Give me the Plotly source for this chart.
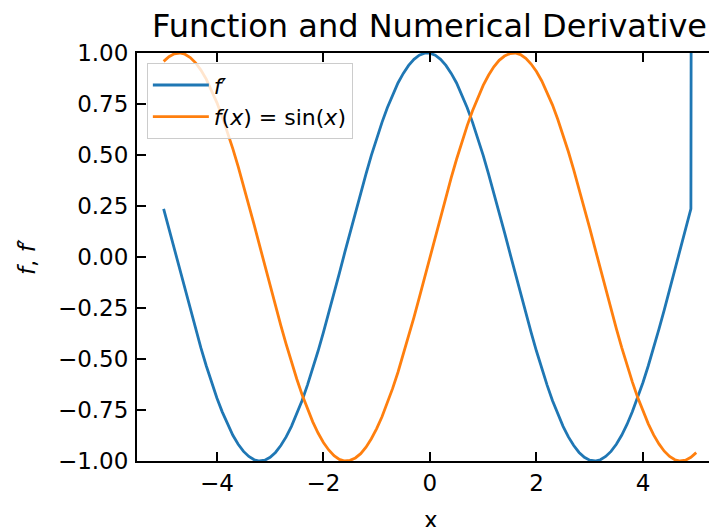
import plotly.graph_objects as go

x_vals = [-5.0, -4.9, -4.8, -4.7, -4.6, -4.5, -4.4, -4.3, -4.2, -4.1,
          -4.0, -3.9, -3.8, -3.7, -3.6, -3.5, -3.4, -3.3, -3.2, -3.1,
          -3.0, -2.9, -2.8, -2.7, -2.6, -2.5, -2.4, -2.3, -2.2, -2.1,
          -2.0, -1.9, -1.8, -1.7, -1.6, -1.5, -1.4, -1.3, -1.2, -1.1,
          -1.0, -0.9, -0.8, -0.7, -0.6, -0.5, -0.4, -0.3, -0.2, -0.1,
          0.0, 0.1, 0.2, 0.3, 0.4, 0.5, 0.6, 0.7, 0.8, 0.9,
          1.0, 1.1, 1.2, 1.3, 1.4, 1.5, 1.6, 1.7, 1.8, 1.9,
          2.0, 2.1, 2.2, 2.3, 2.4, 2.5, 2.6, 2.7, 2.8, 2.9,
          3.0, 3.1, 3.2, 3.3, 3.4, 3.5, 3.6, 3.7, 3.8, 3.9,
          4.0, 4.1, 4.2, 4.3, 4.4, 4.5, 4.6, 4.7, 4.8, 4.9, 5.0]

f_vals = [0.959, 0.982, 0.996, 1.000, 0.994, 0.978, 0.952, 0.916, 0.872, 0.818,
          0.757, 0.688, 0.612, 0.530, 0.443, 0.351, 0.256, 0.158, 0.058, -0.042,
          -0.141, -0.239, -0.335, -0.427, -0.516, -0.598, -0.675, -0.746, -0.808, -0.863,
          -0.909, -0.946, -0.974, -0.992, -1.000, -0.997, -0.985, -0.964, -0.932, -0.891,
          -0.841, -0.783, -0.717, -0.644, -0.565, -0.479, -0.389, -0.296, -0.199, -0.100,
          0.000, 0.100, 0.199, 0.296, 0.389, 0.479, 0.565, 0.644, 0.717, 0.783,
          0.841, 0.891, 0.932, 0.964, 0.985, 0.997, 1.000, 0.992, 0.974, 0.946,
          0.909, 0.863, 0.808, 0.746, 0.675, 0.598, 0.516, 0.427, 0.335, 0.239,
          0.141, 0.042, -0.058, -0.158, -0.256, -0.351, -0.443, -0.530, -0.612, -0.688,
          -0.757, -0.818, -0.872, -0.916, -0.952, -0.978, -0.994, -1.000, -0.996, -0.982, -0.959]

df_vals = [0.236, 0.139, 0.039, -0.061, -0.161, -0.259, -0.354, -0.446, -0.533, -0.615,
           -0.691, -0.759, -0.821, -0.874, -0.918, -0.953, -0.978, -0.994, -1.000, -0.996,
           -0.982, -0.958, -0.924, -0.882, -0.830, -0.770, -0.703, -0.628, -0.547, -0.461,
           -0.370, -0.276, -0.178, -0.079, 0.021, 0.121, 0.219, 0.315, 0.408, 0.498,
           0.582, 0.660, 0.732, 0.796, 0.853, 0.900, 0.939, 0.969, 0.989, 0.999,
           0.999, 0.989, 0.969, 0.939, 0.900, 0.853, 0.796, 0.732, 0.660, 0.582,
           0.498, 0.408, 0.315, 0.219, 0.121, 0.021, -0.079, -0.178, -0.276, -0.370,
           -0.461, -0.547, -0.628, -0.703, -0.770, -0.830, -0.882, -0.924, -0.958, -0.982,
           -0.996, -1.000, -0.994, -0.978, -0.953, -0.918, -0.874, -0.821, -0.759, -0.691,
           -0.615, -0.533, -0.446, -0.354, -0.259, -0.161, -0.061, 0.039, 0.139, 0.236, 19.18]

x_ticks = [-4, -2, 0, 2, 4]
y_ticks = [-1.0, -0.75, -0.5, -0.25, 0.0, 0.25, 0.5, 0.75, 1.0]

FONT = "DejaVu Sans"
BLUE = "#1f77b4"
ORANGE = "#ff7f0e"

fig = go.Figure()
fig.add_trace(go.Scatter(x=x_vals, y=df_vals, mode="lines", name="<i>f</i>′", legendgroup="a",
                         line=dict(color=BLUE, width=2.8)))
fig.add_trace(go.Scatter(x=x_vals, y=f_vals, mode="lines", name="<i>f</i>(<i>x</i>) = sin(<i>x</i>)",
                         legendgroup="b", line=dict(color=ORANGE, width=2.8)))

axis_common = dict(showgrid=False, zeroline=False, ticks="inside", ticklen=9, tickwidth=2,
                   tickcolor="black", linecolor="black", linewidth=2, showline=True,
                   tickfont=dict(family=FONT, size=23, color="black"), automargin=False)

# page body has an 8px margin, so figure origin sits at (8, 8) in the window
fig.update_layout(
    width=709, height=519,
    margin=dict(l=129, r=0, t=45, b=66),
    paper_bgcolor="white", plot_bgcolor="white",
    font=dict(family=FONT, color="black"),
    showlegend=True,
    legend=dict(x=0.017, y=0.975, xanchor="left", yanchor="top", itemwidth=56,
                tracegroupgap=0, traceorder="grouped",
                bgcolor="rgba(255,255,255,0.8)", bordercolor="#cccccc", borderwidth=1,
                font=dict(family=FONT, size=22, color="black")),
    xaxis=dict(range=[-5.5, 5.39], tickvals=x_ticks, ticktext=[f"{v:d}".replace("-", "−") for v in x_ticks],
               mirror="ticks", **axis_common),
    yaxis=dict(range=[-1, 1], tickvals=y_ticks, tickformat=".2f", mirror=False,
               ticklabelstandoff=2, **axis_common),
    yaxis2=dict(range=[-1, 1], overlaying="y", side="right", tickvals=y_ticks, showticklabels=False,
                showgrid=False, zeroline=False, showline=False, ticks="inside", ticklen=4, tickwidth=2,
                tickcolor="black"),
)

fig.add_annotation(text="Function and Numerical Derivative", xref="paper", yref="paper",
                   x=(421.5 - 129) / 580, y=1.0, yshift=27, xanchor="center", yanchor="middle",
                   showarrow=False, font=dict(family=FONT, size=32, color="black"))
fig.add_annotation(text="x", xref="paper", yref="paper", x=(422.5 - 129) / 580, y=0,
                   yshift=-59, xanchor="center", yanchor="middle", showarrow=False,
                   font=dict(family=FONT, size=23, color="black"))
fig.add_annotation(text="<i>f</i>, <i>f</i>′", xref="paper", yref="paper", x=0, xshift=-110,
                   y=0.5, xanchor="center", yanchor="middle", textangle=-90, showarrow=False,
                   font=dict(family=FONT, size=23, color="black"))

fig.write_html("out.html")
